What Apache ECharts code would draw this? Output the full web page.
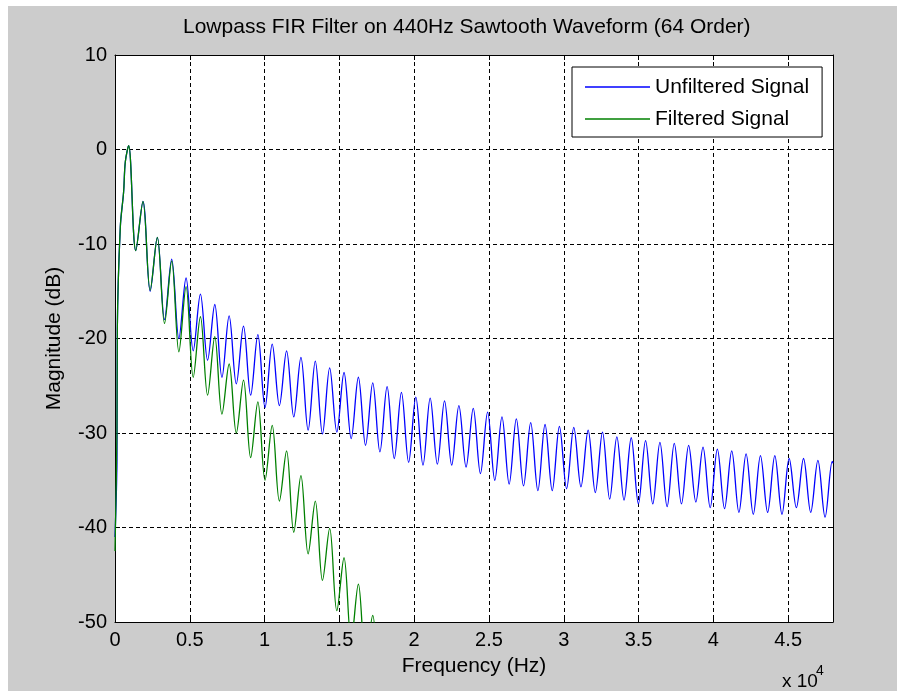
<!DOCTYPE html>
<html>
<head>
<meta charset="utf-8">
<script src="https://cdn.jsdelivr.net/npm/echarts@6/dist/echarts.min.js"></script>
<style>
  html, body { margin: 0; padding: 0; background: #ffffff; }
  #chart { width: 897px; height: 691px; }
</style>
</head>
<body>
<div id="chart"></div>
<script>
// ---- Data ----
const xTickLabels = ['0', '0.5', '1', '1.5', '2', '2.5', '3', '3.5', '4', '4.5'];
const yTickLabels = ['10', '0', '-10', '-20', '-30', '-40', '-50'];

// Rising edge near 0 Hz
const leadFreqHz       = [0, 130, 155, 355, 575, 690];
const unfilteredLeadDb = [-41, -33, -19, -8.2, -4.5, -1.3];
const filteredLeadDb   = [-42.5, -30, -19, -8.2, -4.5, -1.3];

// Harmonic peak positions (Hz)
const peakFreqHz = [910, 1870, 2830, 3790, 4750, 5710, 6670, 7630, 8590, 9550,
  10510, 11470, 12430, 13390, 14350, 15310, 16270, 17230, 18190, 19150,
  20110, 21070, 22030, 22990, 23950, 24910, 25870, 26830, 27790, 28750,
  29710, 30670, 31630, 32590, 33550, 34510, 35470, 36430, 37390, 38350,
  39310, 40270, 41230, 42190, 43150, 44110, 45070, 46030, 46990, 47950];
// Trough positions between harmonics (Hz)
const troughFreqHz = [1390, 2350, 3310, 4270, 5230, 6190, 7150, 8110, 9070,
  10030, 10990, 11950, 12910, 13870, 14830, 15790, 16750, 17710, 18670,
  19630, 20590, 21550, 22510, 23470, 24430, 25390, 26350, 27310, 28270,
  29230, 30190, 31150, 32110, 33070, 34030, 34990, 35950, 36910, 37870,
  38830, 39790, 40750, 41710, 42670, 43630, 44590, 45550, 46510, 47470];

// Unfiltered signal (dB)
const unfilteredPeakDb = [0.4, -5.5, -9.3, -11.6, -13.6, -15.3, -16.4, -17.6, -18.7, -19.6,
  -20.6, -21.3, -22.0, -22.4, -23.1, -23.6, -24.1, -24.7, -25.1, -25.7,
  -26.2, -26.3, -26.6, -27.1, -27.4, -27.8, -28.3, -28.5, -28.9, -29.1,
  -29.3, -29.4, -29.7, -29.9, -30.4, -30.5, -30.8, -31.0, -31.1, -31.3,
  -31.5, -31.7, -31.9, -32.2, -32.4, -32.4, -32.7, -32.7, -32.9, -33.0];
const unfilteredTroughDb = [-10.7, -15.0, -18.0, -20.0, -21.3, -22.3, -24.1, -24.8, -26.0,
  -27.3, -27.1, -28.3, -29.7, -30.1, -29.9, -30.6, -31.3, -32.0, -32.7,
  -33.1, -33.4, -33.3, -33.4, -33.6, -34.3, -35.0, -35.4, -35.6, -36.1,
  -36.1, -35.9, -35.7, -36.3, -37.0, -37.1, -37.5, -37.5, -37.8, -37.5,
  -37.3, -37.9, -38.0, -38.4, -38.6, -38.4, -38.6, -37.9, -38.4, -38.9];
const unfilteredEnd = [48000, -33.2];

// Filtered signal (dB) - falls below the plot after ~18 kHz
const filteredPeakDb = [0.4, -5.5, -9.3, -11.8, -14.5, -17.7, -19.8, -22.7, -24.4, -26.7,
  -29.2, -31.9, -34.5, -37.2, -40.1, -43.2, -46.0, -49.3, -53.0];
const filteredTroughDb = [-10.7, -14.9, -18.4, -21.4, -24.1, -26.0, -28.0, -30.0, -32.6,
  -35.0, -37.2, -40.5, -42.8, -45.6, -48.8, -52.0, -54.0, -57.0];

function buildSeries(leadDb, peakDb, troughDb, endPoint) {
  const pts = [];
  for (let i = 0; i < leadFreqHz.length; i++) pts.push([leadFreqHz[i], leadDb[i]]);
  for (let k = 0; k < peakDb.length; k++) {
    pts.push([peakFreqHz[k], peakDb[k]]);
    if (k < troughDb.length) pts.push([troughFreqHz[k], troughDb[k]]);
  }
  if (endPoint) pts.push(endPoint);
  return pts;
}

const unfilteredData = buildSeries(unfilteredLeadDb, unfilteredPeakDb, unfilteredTroughDb, unfilteredEnd);
const filteredData = buildSeries(filteredLeadDb, filteredPeakDb, filteredTroughDb, null);

const FONT = "'Liberation Sans', Arial, sans-serif";
const chart = echarts.init(document.getElementById('chart'), null, { renderer: 'canvas' });

const frameAxisCommon = {
  axisLine: { show: true, onZero: false, lineStyle: { color: '#000', width: 1 } },
  axisTick: { show: true, inside: true, length: 5, lineStyle: { color: '#000', width: 1 } },
  splitLine: { show: false },
  axisLabel: { show: false }
};

chart.setOption({
  animation: false,
  backgroundColor: '#ffffff',
  title: {
    text: 'Lowpass FIR Filter on 440Hz Sawtooth Waveform (64 Order)',
    left: 183, top: 17, padding: 0,
    textStyle: { fontFamily: FONT, fontSize: 21, fontWeight: 'normal', color: '#000' }
  },
  graphic: [
    { type: 'rect', z: -10, silent: true, shape: { x: 8, y: 6, width: 889, height: 685 },
      style: { fill: '#cccccc' } },
    { type: 'text', z: 10, silent: true, style: { x: 782, y: 672, text: 'x 10', fontFamily: FONT, fontSize: 19, fill: '#000' } },
    { type: 'text', z: 10, silent: true, style: { x: 816, y: 664, text: '4', fontFamily: FONT, fontSize: 14, fill: '#000' } }
  ],
  legend: {
    data: ['Unfiltered Signal', 'Filtered Signal'],
    orient: 'vertical',
    left: 572, top: 67,
    padding: [9, 13, 7, 13],
    itemGap: 10,
    icon: 'rect',
    itemWidth: 65, itemHeight: 1.5,
    backgroundColor: '#ffffff',
    borderColor: '#000', borderWidth: 1, borderRadius: 0,
    textStyle: { fontFamily: FONT, fontSize: 21, color: '#000', lineHeight: 22 }
  },
  grid: {
    left: 115, top: 55, right: 64, bottom: 69,
    show: true, backgroundColor: '#ffffff', borderWidth: 0
  },
  xAxis: [
    {
      type: 'value', min: 0, max: 48000, interval: 5000, position: 'bottom',
      name: 'Frequency (Hz)', nameLocation: 'middle', nameGap: 34,
      nameTextStyle: { fontFamily: FONT, fontSize: 21, color: '#000' },
      axisLine: { show: true, onZero: false, lineStyle: { color: '#000', width: 1 } },
      axisTick: { show: true, inside: true, length: 5, lineStyle: { color: '#000' } },
      axisLabel: {
        fontFamily: FONT, fontSize: 20, color: '#000', margin: 8,
        formatter: function (v) { const i = Math.round(v / 5000); return (v % 5000 === 0 && xTickLabels[i] !== undefined) ? xTickLabels[i] : ''; }
      },
      splitLine: { show: true, lineStyle: { color: '#000', width: 1, type: [4, 3] } }
    },
    Object.assign({ type: 'value', min: 0, max: 48000, interval: 5000, position: 'top' }, frameAxisCommon)
  ],
  yAxis: [
    {
      type: 'value', min: -50, max: 10, interval: 10, position: 'left',
      name: 'Magnitude (dB)', nameLocation: 'middle', nameGap: 50,
      nameTextStyle: { fontFamily: FONT, fontSize: 21, color: '#000' },
      axisLine: { show: true, onZero: false, lineStyle: { color: '#000', width: 1 } },
      axisTick: { show: true, inside: true, length: 5, lineStyle: { color: '#000' } },
      axisLabel: {
        fontFamily: FONT, fontSize: 20, color: '#000', margin: 8,
        formatter: function (v) { const i = Math.round((10 - v) / 10); return yTickLabels[i] !== undefined ? yTickLabels[i] : ''; }
      },
      splitLine: { show: true, lineStyle: { color: '#000', width: 1, type: [4, 3] } }
    },
    Object.assign({ type: 'value', min: -50, max: 10, interval: 10, position: 'right' }, frameAxisCommon)
  ],
  series: [
    {
      name: 'Unfiltered Signal', type: 'line', data: unfilteredData,
      symbol: 'none', smooth: 0.35, clip: true,
      lineStyle: { color: '#0000ff', width: 1.3 }, itemStyle: { color: '#0000ff' }
    },
    {
      name: 'Filtered Signal', type: 'line', data: filteredData,
      symbol: 'none', smooth: 0.35, clip: true,
      lineStyle: { color: '#008000', width: 1.3 }, itemStyle: { color: '#008000' }
    }
  ]
});
</script>
</body>
</html>
